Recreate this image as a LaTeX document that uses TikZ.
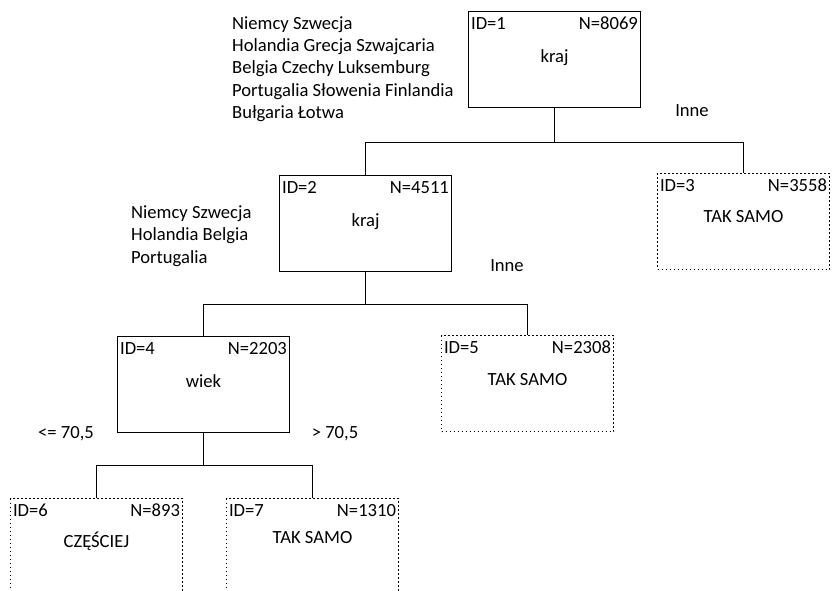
\documentclass[tikz,border=0pt]{standalone}
\usepackage{fontspec}
\setmainfont{Carlito}
\begin{document}
\begin{tikzpicture}[x=1pt, y=-1pt,
    font=\fontsize{18.6}{22.3}\selectfont,
    split/.style={draw, line width=1.2pt, minimum width=172pt, minimum height=96pt, inner sep=0pt},
    leaf/.style={split, line width=1.3pt, dash pattern=on 1.3pt off 2.7pt},
    txt/.style={inner sep=0pt},
    cond/.style={inner sep=0pt, align=left},
    edge/.style={line width=1.2pt}]
            \useasboundingbox (0,0) rectangle (832,591);
            \clip (0,0) rectangle (832,591);

            \node[split] (t1) at (554.5,59.5) {};
            \node[split] (t2) at (365.5,223.5) {};
            \node[leaf] (t3) at (743.5,221.5) {};
            \node[split] (t4) at (203.5,384.5) {};
            \node[leaf] (t5) at (527.5,383.5) {};
            \node[leaf] (t6) at (96.5,546.5) {};
            \node[leaf] (t7) at (312.5,546.5) {};

            \node[txt, anchor=base west] (id1) at ([shift={(3,19)}]t1.north west) {ID=1};
            \node[txt, anchor=base east] (n1) at ([shift={(-3,19)}]t1.north east) {N=8069};
            \node[txt, anchor=base] (c1) at ([shift={(0,52)}]t1.north) {kraj};
            \node[txt, anchor=base west] (id2) at ([shift={(3,19)}]t2.north west) {ID=2};
            \node[txt, anchor=base east] (n2) at ([shift={(-3,19)}]t2.north east) {N=4511};
            \node[txt, anchor=base] (c2) at ([shift={(0,52)}]t2.north) {kraj};
            \node[txt, anchor=base west] (id3) at ([shift={(3,19)}]t3.north west) {ID=3};
            \node[txt, anchor=base east] (n3) at ([shift={(-3,19)}]t3.north east) {N=3558};
            \node[txt, anchor=base] (c3) at ([shift={(0,50)}]t3.north) {TAK SAMO};
            \node[txt, anchor=base west] (id4) at ([shift={(3,19)}]t4.north west) {ID=4};
            \node[txt, anchor=base east] (n4) at ([shift={(-3,19)}]t4.north east) {N=2203};
            \node[txt, anchor=base] (c4) at ([shift={(0,52)}]t4.north) {wiek};
            \node[txt, anchor=base west] (id5) at ([shift={(3,19)}]t5.north west) {ID=5};
            \node[txt, anchor=base east] (n5) at ([shift={(-3,19)}]t5.north east) {N=2308};
            \node[txt, anchor=base] (c5) at ([shift={(0,51)}]t5.north) {TAK SAMO};
            \node[txt, anchor=base west] (id6) at ([shift={(3,19)}]t6.north west) {ID=6};
            \node[txt, anchor=base east] (n6) at ([shift={(-3,19)}]t6.north east) {N=893};
            \node[txt, anchor=base] (c6) at ([shift={(0,50)}]t6.north) {CZĘŚCIEJ};
            \node[txt, anchor=base west] (id7) at ([shift={(3,19)}]t7.north west) {ID=7};
            \node[txt, anchor=base east] (n7) at ([shift={(-3,19)}]t7.north east) {N=1310};
            \node[txt, anchor=base] (c7) at ([shift={(0,46)}]t7.north) {TAK SAMO};

            \node[cond, anchor=west] (l1) at (232,69) {Niemcy Szwecja\\Holandia Grecja Szwajcaria\\Belgia Czechy Luksemburg\\Portugalia Słowenia Finlandia\\Bułgaria Łotwa};
            \node[cond] (r1) at (692,111) {Inne};
            \node[cond, anchor=west] (l2) at (131,236) {Niemcy Szwecja\\Holandia Belgia\\Portugalia};
            \node[cond] (r2) at (507,266) {Inne};
            \node[cond] (l4) at (66,434) {<= 70,5};
            \node[cond] (r4) at (335,434) {> 70,5};

            \coordinate (j1) at (t1.south |- 0,142.5);
            \coordinate (j2) at (t2.south |- 0,304.5);
            \coordinate (j4) at (t4.south |- 0,465.5);
            \draw[edge] (t1.south) -- (j1);
            \draw[edge] (t2.north) |- (j1) -| (t3.north);
            \draw[edge] (t2.south) -- (j2);
            \draw[edge] (t4.north) |- (j2) -| (t5.north);
            \draw[edge] (t4.south) -- (j4);
            \draw[edge] (t6.north) |- (j4) -| (t7.north);

        \end{tikzpicture}
\end{document}
